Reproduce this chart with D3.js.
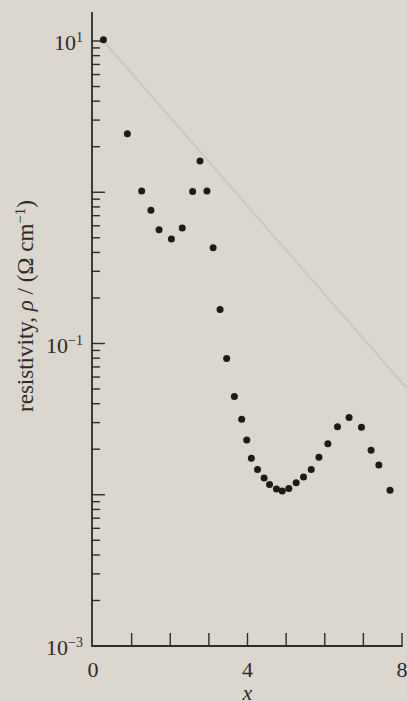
<!DOCTYPE html>
<html>
<head>
<meta charset="utf-8">
<script src="https://cdn.jsdelivr.net/npm/d3@7.9.0/dist/d3.min.js"></script>
<style>
  html, body { margin: 0; padding: 0; background: #dcd8d0; }
  svg { display: block; }
  text { font-family: "Liberation Serif", "DejaVu Serif", serif; fill: #2b2a28; }
</style>
</head>
<body>
<div id="chart"></div>
<script>
// values
const xs = [0.27, 0.89, 1.26, 1.50, 1.71, 2.03, 2.31, 2.58, 2.77, 2.95, 3.11, 3.29, 3.46, 3.66,
  3.85, 3.98, 4.10, 4.26, 4.43, 4.57, 4.75, 4.90, 5.07, 5.26, 5.45, 5.65, 5.85, 6.08, 6.33,
  6.63, 6.95, 7.20, 7.40, 7.69];
const rho = [10.2, 2.44, 1.02, 0.76, 0.565, 0.49, 0.58, 1.01, 1.61, 1.02, 0.43, 0.168, 0.0796,
  0.0446, 0.0316, 0.0230, 0.0174, 0.0147, 0.0129, 0.0117, 0.0109, 0.0106, 0.0110, 0.0120,
  0.0131, 0.0147, 0.0177, 0.0217, 0.0282, 0.0324, 0.0279, 0.0197, 0.0157, 0.0107];

const xTicks = [1, 2, 3, 4, 5, 6, 7, 8];
const xLabels = [0, 4, 8];
const yMajor = [1e-3, 1e-2, 1e-1, 1, 10];
const yLabels = [[1e1, '1'], [1e-1, '\u22121'], [1e-3, '\u22123']];
// faint diagonal show-through from the other side of the page
const bleed = [[0.27, 10], [8.2, 0.048]];

const width = 407, height = 701;
const margin = { top: 41, left: 92, right: 5, bottom: 55 };

const svg = d3.select('#chart').append('svg')
  .attr('width', width)
  .attr('height', height);

svg.append('rect').attr('width', width).attr('height', height).attr('fill', '#dbd7cf');

const xScale = d3.scaleLinear().domain([0, 8]).range([margin.left + 1, width - margin.right]);
const yScale = d3.scaleLog().domain([1e-3, 10]).range([height - margin.bottom, margin.top]);

svg.append('line')
  .attr('x1', xScale(bleed[0][0])).attr('y1', yScale(bleed[0][1]))
  .attr('x2', xScale(bleed[1][0])).attr('y2', yScale(bleed[1][1]))
  .attr('stroke', '#cbc7bf').attr('stroke-width', 2);

// minor ticks on y
const minor = [];
for (let e = -3; e < 1; e++) for (let m = 2; m <= 9; m++) minor.push(m * Math.pow(10, e));

const axisColor = '#2e2c2a';
const y0 = yScale(1e-3);

// ticks drawn as thin filled rects
const ticks = svg.append('g').attr('fill', axisColor);

ticks.selectAll('rect.minor')
  .data(minor)
  .join('rect')
  .attr('class', 'minor')
  .attr('x', margin.left).attr('width', 8)
  .attr('y', d => yScale(d) - 0.7).attr('height', 1.4);

ticks.selectAll('rect.major')
  .data(yMajor)
  .join('rect')
  .attr('class', 'major')
  .attr('x', margin.left).attr('width', 13)
  .attr('y', d => yScale(d) - 0.7).attr('height', 1.4);

ticks.selectAll('rect.xt')
  .data(xTicks)
  .join('rect')
  .attr('class', 'xt')
  .attr('x', d => xScale(d) - 0.7).attr('width', 1.4)
  .attr('y', y0 - 13).attr('height', 13);

// axis lines
svg.append('path')
  .attr('d', `M${margin.left},12V${y0}H${xScale(8) + 0.6}`)
  .attr('fill', 'none')
  .attr('stroke', axisColor).attr('stroke-width', 1.8);

svg.selectAll('text.xl')
  .data(xLabels)
  .join('text')
  .attr('class', 'xl')
  .attr('x', d => xScale(d))
  .attr('y', y0 + 31)
  .attr('text-anchor', 'middle')
  .attr('font-size', 22)
  .text(d => d);

// y labels 10^n
const yl = svg.selectAll('text.yl')
  .data(yLabels)
  .join('text')
  .attr('class', 'yl')
  .attr('x', margin.left - 9)
  .attr('y', d => yScale(d[0]) + 9)
  .attr('text-anchor', 'end')
  .attr('font-size', 22);
yl.append('tspan').text('10');
yl.append('tspan').attr('dy', -8).attr('font-size', 14).text(d => d[1]);

// axis titles
svg.append('text')
  .attr('x', xScale(4))
  .attr('y', 700)
  .attr('text-anchor', 'middle')
  .attr('font-size', 22)
  .attr('font-style', 'italic')
  .text('x');

const yt = svg.append('text')
  .attr('transform', `translate(33,306) rotate(-90)`)
  .attr('text-anchor', 'middle')
  .attr('font-size', 23);
yt.append('tspan').text('resistivity, ');
yt.append('tspan').attr('font-style', 'italic').text('\u03C1');
yt.append('tspan').text(' / (\u03A9 cm');
yt.append('tspan').attr('dy', -8).attr('font-size', 15).text('\u22121');
yt.append('tspan').attr('dy', 8).text(')');

// points
const points = xs.map((x, i) => ({ x, rho: rho[i] }));
svg.append('g')
  .selectAll('circle')
  .data(points)
  .join('circle')
  .attr('cx', d => xScale(d.x))
  .attr('cy', d => yScale(d.rho))
  .attr('r', 3.5)
  .attr('fill', '#1c1b1a');
</script>
</body>
</html>
